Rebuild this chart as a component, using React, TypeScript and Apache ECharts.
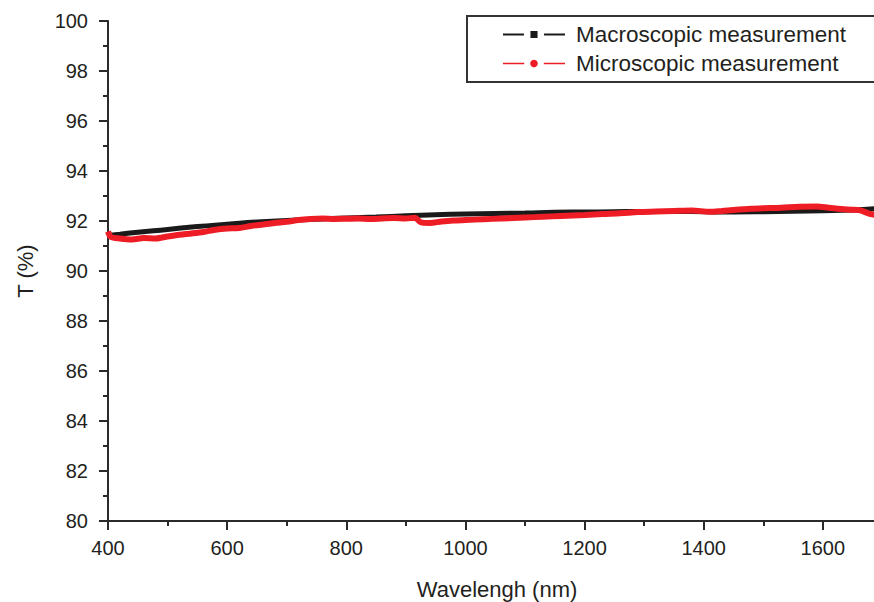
import React, { useEffect, useRef } from "react";
import * as echarts from "echarts";

const macroWavelength = [400, 420, 450, 500, 550, 600, 650, 700, 750, 800, 850, 900, 950, 1000, 1050, 1100, 1150, 1200, 1250, 1300, 1350, 1400, 1450, 1500, 1550, 1600, 1650, 1700];
const macroT = [91.42, 91.47, 91.55, 91.66, 91.78, 91.87, 91.96, 92.02, 92.07, 92.12, 92.16, 92.21, 92.25, 92.28, 92.3, 92.32, 92.35, 92.36, 92.37, 92.38, 92.38, 92.37, 92.36, 92.37, 92.39, 92.41, 92.44, 92.52];

const microWavelength = [400, 405, 420, 440, 460, 480, 500, 520, 540, 560, 580, 600, 620, 640, 660, 680, 700, 720, 740, 760, 780, 800, 820, 840, 860, 880, 900, 915, 925, 940, 960, 980, 1000, 1030, 1060, 1100, 1130, 1160, 1200, 1230, 1260, 1290, 1320, 1350, 1380, 1410, 1430, 1450, 1480, 1500, 1530, 1560, 1590, 1610, 1640, 1660, 1680, 1700];
const microT = [91.58, 91.36, 91.3, 91.26, 91.32, 91.3, 91.38, 91.45, 91.5, 91.56, 91.65, 91.7, 91.72, 91.8, 91.86, 91.92, 91.97, 92.04, 92.08, 92.1, 92.08, 92.09, 92.1, 92.08, 92.1, 92.12, 92.1, 92.13, 91.95, 91.92, 91.98, 92.02, 92.04, 92.07, 92.1, 92.14, 92.17, 92.2, 92.24, 92.28, 92.31, 92.36, 92.38, 92.4, 92.42, 92.37, 92.4, 92.44, 92.49, 92.51, 92.53, 92.57, 92.58, 92.53, 92.46, 92.44, 92.28, 92.22];

const xTicks = { min: 400, max: 1800, interval: 200 };
const yTicks = { min: 80, max: 100, interval: 2 };

const seriesNames = ["Macroscopic measurement", "Microscopic measurement"];

const FONT = 'Arial, "Liberation Sans", Helvetica, sans-serif';
const TEXT = "#231f20";
const AXIS = "#2a2a2a";

export default function App() {
  const ref = useRef<HTMLDivElement>(null);
  useEffect(() => {
    document.body.style.margin = "0";
    if (!ref.current) return;
    const chart = echarts.init(ref.current, undefined, { renderer: "svg" });
    const macro = macroWavelength.map((w, i) => [w, macroT[i]]);
    const micro = microWavelength.map((w, i) => [w, microT[i]]);
    chart.setOption({
      animation: false,
      backgroundColor: "#ffffff",
      textStyle: { fontFamily: FONT },
      grid: { left: 108, right: 0, top: 21, bottom: 81, containLabel: false, outerBoundsMode: "none" },
      xAxis: {
        type: "value",
        min: xTicks.min,
        max: xTicks.max,
        interval: xTicks.interval,
        name: "Wavelengh (nm)",
        nameLocation: "middle",
        nameGap: 57,
        nameTextStyle: { fontSize: 22, color: TEXT, fontFamily: FONT, padding: [0, 56, 0, 0] },
        axisLine: { show: true, lineStyle: { color: AXIS, width: 2 } },
        axisTick: { show: true, inside: false, length: 9, lineStyle: { color: AXIS, width: 2 } },
        minorTick: { show: true, splitNumber: 2, length: 5, lineStyle: { color: AXIS, width: 2 } },
        axisLabel: { fontSize: 20, color: TEXT, margin: 17, fontFamily: FONT, showMaxLabel: false, formatter: (v: number) => String(v) },
        splitLine: { show: false },
      },
      yAxis: {
        type: "value",
        min: yTicks.min,
        max: yTicks.max,
        interval: yTicks.interval,
        name: "T (%)",
        nameLocation: "middle",
        nameGap: 72,
        nameTextStyle: { fontSize: 22, color: TEXT, fontFamily: FONT },
        axisLine: { show: true, lineStyle: { color: AXIS, width: 2 } },
        axisTick: { show: true, inside: false, length: 9, lineStyle: { color: AXIS, width: 2 } },
        minorTick: { show: true, splitNumber: 2, length: 5, lineStyle: { color: AXIS, width: 2 } },
        axisLabel: { fontSize: 20, color: TEXT, margin: 20, fontFamily: FONT },
        splitLine: { show: false },
      },
      legend: {
        orient: "vertical",
        left: 502,
        top: 23,
        padding: 0,
        itemWidth: 62,
        itemHeight: 17,
        itemGap: 6,
        data: [
          { name: seriesNames[0], itemStyle: { color: "#1a1a1a", borderColor: "#ffffff", borderWidth: 6.5 }, lineStyle: { color: "#1a1a1a", width: 2 } },
          { name: seriesNames[1], itemStyle: { color: "#ee1c25", borderColor: "#ffffff", borderWidth: 6 }, lineStyle: { color: "#ee1c25", width: 1.5 } },
        ],
        textStyle: { fontSize: 22.5, color: TEXT, fontFamily: FONT, lineHeight: 22, padding: [0, 0, 0, 6] },
      },
      graphic: [
        {
          type: "rect",
          left: 466,
          top: 15,
          shape: { width: 520, height: 66 },
          style: { fill: "rgba(0,0,0,0)", stroke: "#333333", lineWidth: 2 },
          z: 0,
          silent: true,
        },
      ],
      series: [
        {
          name: seriesNames[0],
          type: "line",
          data: macro,
          symbol: "rect",
          symbolSize: 8,
          showSymbol: false,
          smooth: true,
          lineStyle: { color: "#1a1a1a", width: 5 },
          itemStyle: { color: "#1a1a1a" },
          z: 2,
        },
        {
          name: seriesNames[1],
          type: "line",
          data: micro,
          symbol: "circle",
          symbolSize: 8,
          showSymbol: false,
          smooth: 0.3,
          lineStyle: { color: "#ee1c25", width: 6 },
          itemStyle: { color: "#ee1c25" },
          z: 3,
        },
      ],
    });
    return () => chart.dispose();
  }, []);
  return (
    <div style={{ width: 874, height: 602, overflow: "hidden", position: "relative" }}>
      <div ref={ref} style={{ width: 942, height: 602 }} />
    </div>
  );
}
